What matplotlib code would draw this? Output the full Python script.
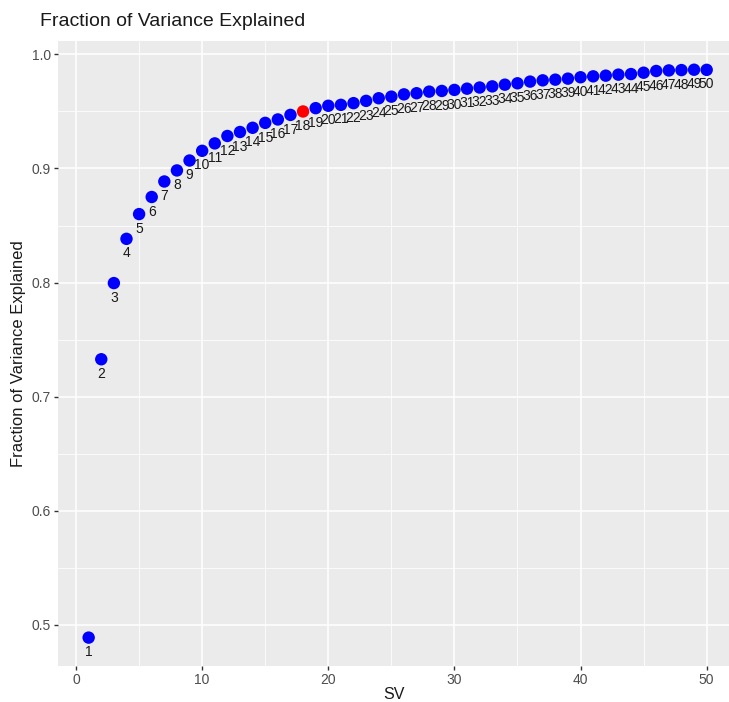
import matplotlib
matplotlib.use("Agg")
import matplotlib.pyplot as plt
from matplotlib.ticker import MultipleLocator, FormatStrFormatter

plt.rcParams['font.family'] = ['Liberation Sans', 'DejaVu Sans']

sv = list(range(1, 51))
fve = [0.4886, 0.7327, 0.7995, 0.8383, 0.8600, 0.8750, 0.8886, 0.8983, 0.9070, 0.9155,
       0.9220, 0.9285, 0.9320, 0.9357, 0.9400, 0.9430, 0.9470, 0.9500, 0.9529, 0.9550,
       0.9558, 0.9573, 0.9593, 0.9616, 0.9630, 0.9650, 0.9660, 0.9674, 0.9680, 0.9689,
       0.9700, 0.9710, 0.9720, 0.9735, 0.9747, 0.9762, 0.9773, 0.9779, 0.9788, 0.9800,
       0.9808, 0.9814, 0.9823, 0.9828, 0.9840, 0.9855, 0.9860, 0.9863, 0.9866, 0.9865]
highlight = 18

colors = ["red" if k == highlight else "blue" for k in sv]

fig = plt.figure(figsize=(7.29, 7.02), dpi=100)
ax = fig.add_axes([58 / 729, 36 / 702, 671 / 729, 625 / 702])
ax.set_facecolor("#EBEBEB")
for s in ax.spines.values():
    s.set_visible(False)

ax.scatter(sv, fve, s=80, c=colors, zorder=3, linewidths=0)
for k, v in zip(sv, fve):
    ax.annotate(str(k), (k, v), xytext=(0, -5.5), textcoords="offset points",
                ha="center", va="top", fontsize=10, color="#1a1a1a",
                family=['Liberation Sans Narrow', 'Liberation Sans', 'DejaVu Sans'],
                zorder=4)

ax.set_xlim(-1.43, 51.77)
ax.set_ylim(0.4637, 1.0118)
ax.xaxis.set_major_locator(MultipleLocator(10))
ax.xaxis.set_minor_locator(MultipleLocator(5))
ax.yaxis.set_major_locator(MultipleLocator(0.1))
ax.yaxis.set_minor_locator(MultipleLocator(0.05))
ax.grid(which="major", color="white", linewidth=1.1, zorder=0)
ax.grid(which="minor", color="white", linewidth=0.55, zorder=0)
ax.set_axisbelow(True)
ax.tick_params(which="major", length=3, width=1, color="#333333",
               labelcolor="#4D4D4D", labelsize=10, pad=2)
ax.tick_params(which="minor", length=0)
ax.yaxis.set_major_formatter(FormatStrFormatter("%.1f"))

ax.set_xlabel("SV", fontsize=11.5, color="#1a1a1a", labelpad=0)
ax.set_ylabel("Fraction of Variance Explained", fontsize=12, color="#1a1a1a", labelpad=4)
fig.text(40 / 729, 1 - 21 / 702, "Fraction of Variance Explained", fontsize=14,
         color="#1a1a1a", va="center", ha="left")

fig.savefig("out.png", dpi=100)
